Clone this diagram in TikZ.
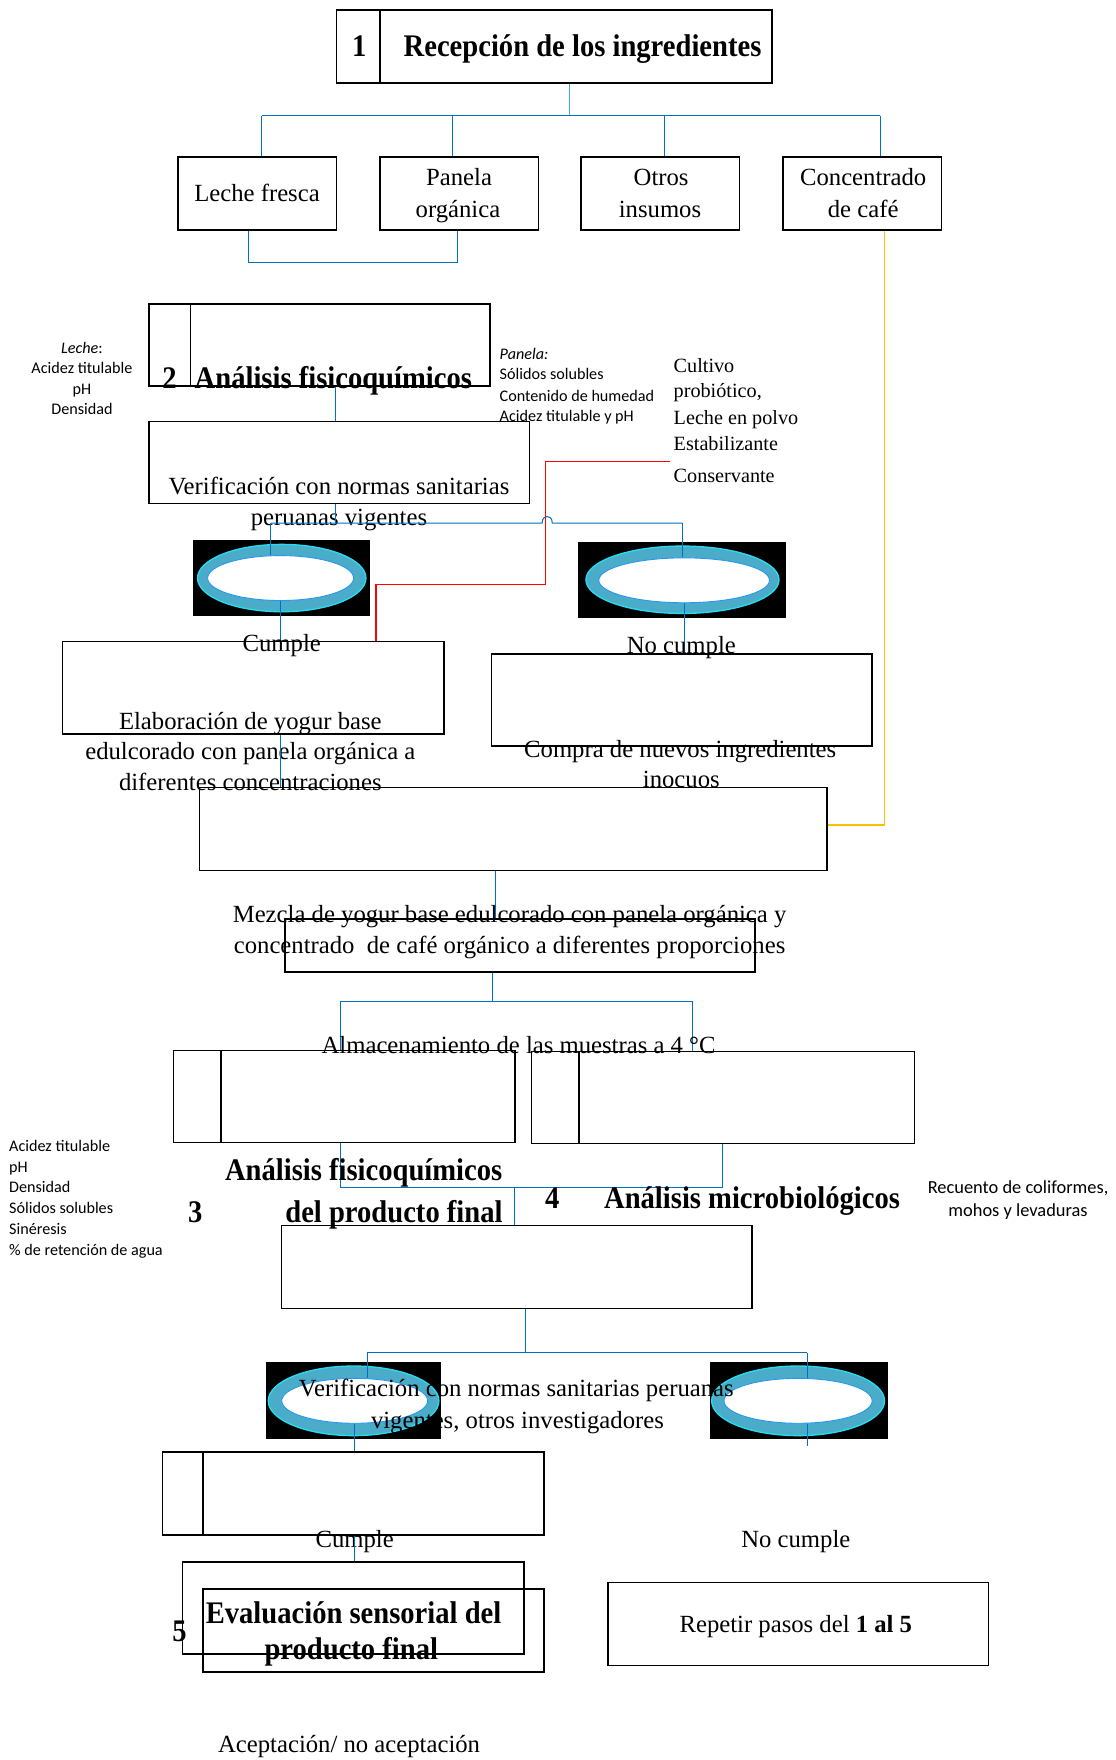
\documentclass[tikz,border=0pt]{standalone}
\usepackage{fontspec}
\setmainfont{Liberation Serif}
\newfontfamily\hb[FakeStretch=0.91]{Liberation Serif}
\newfontfamily\carl{Carlito}
\usetikzlibrary{shapes.geometric,calc}
\definecolor{cblue}{RGB}{0,112,192}
\definecolor{cblight}{RGB}{65,165,222}
\definecolor{cyel}{RGB}{255,192,0}
\definecolor{ringc}{RGB}{74,172,200}
\definecolor{ringe}{RGB}{40,220,240}
\definecolor{holee}{RGB}{40,150,240}
\begin{document}
\begin{tikzpicture}[x=1pt,y=-1pt,
  bx/.style={draw=black,line width=1.4pt,inner sep=0pt,anchor=north west},
  cn/.style={draw=cblue,line width=0.9pt},
  cnl/.style={draw=cblight,line width=0.9pt},
  cy/.style={draw=cyel,line width=1pt},
  cr/.style={draw=red,line width=1pt},
  tx/.style={inner sep=0pt,yshift=-2.5pt,font=\fontsize{22}{26}\selectfont,text height=15pt,text depth=5pt},
  ts/.style={inner sep=0pt,yshift=-2.5pt,font=\fontsize{18}{22}\selectfont,anchor=west,text height=12pt,text depth=4pt},
  hd/.style={inner sep=0pt,yshift=-2.5pt,font=\hb\bfseries\fontsize{28}{32}\selectfont,text height=19pt,text depth=6pt},
  sm/.style={inner sep=0pt,yshift=-2pt,font=\carl\fontsize{14.4}{17}\selectfont,text height=10pt,text depth=3pt},
  smb/.style={inner sep=0pt,yshift=-2pt,font=\carl\fontsize{16.4}{19}\selectfont,text height=11pt,text depth=3pt},
  bg/.style={fill=black,inner sep=0pt,anchor=north west},
  ring/.style={ellipse,fill=ringc,draw=ringe,line width=1.2pt,inner sep=0pt},
  hole/.style={ellipse,fill=white,draw=holee,line width=0.8pt,inner sep=0pt}]
\fill[white] (0,0) rectangle (994,1568);
\useasboundingbox (0,0) rectangle (994,1568);

% ---------- step 1
\node[bx,minimum width=39pt,minimum height=65pt] (n1) at (299,8) {};
\node[bx,minimum width=349pt,minimum height=65pt] (b1) at (338,8) {};
\node[hd] (t1n) at (320,41) {1};
\node[hd] (t1) at (519,41) {Recepción de los ingredientes};

\node[bx,minimum width=141pt,minimum height=65pt] (leche) at (158,139) {};
\node[bx,minimum width=141pt,minimum height=65pt] (panela) at (338,139) {};
\node[bx,minimum width=141pt,minimum height=65pt] (otros) at (517,139) {};
\node[bx,minimum width=141pt,minimum height=65pt] (cafe) at (697,139) {};
\node[tx] (tleche) at (229,172) {Leche fresca};
\node[tx] (tpan1) at (409,158) {Panela};
\node[tx] (tpan2) at (408,186) {orgánica};
\node[tx] (tot1) at (589,158) {Otros};
\node[tx] (tot2) at (588,186) {insumos};
\node[tx] (tcaf1) at (769,158) {Concentrado};
\node[tx] (tcaf2) at (769,186) {de café};

\coordinate (j1) at (507,103);
\coordinate (ja) at (233,103);
\coordinate (jb) at (403,103);
\coordinate (jc) at (592,103);
\coordinate (jd) at (784,103);
\draw[cnl] (b1.south -| j1) -- (j1);
\draw[cn] (ja) -- (jd);
\draw[cn] (ja) -- (ja |- leche.north);
\draw[cn] (jb) -- (jb |- panela.north);
\draw[cn] (jc) -- (jc |- otros.north);
\draw[cn] (jd) -- (jd |- cafe.north);
\coordinate (k1) at (221,234);
\coordinate (k2) at (408,234);
\draw[cn] (leche.south -| k1) -- (k1) -- (k2) -- (panela.south -| k2);

% ---------- step 2
\node[bx,minimum width=37pt,minimum height=73pt] (n2) at (132,270) {};
\node[bx,minimum width=267pt,minimum height=73pt] (a2) at (169,270) {};
\node[hd] (t2n) at (151,337) {2};
\node[hd] (t2) at (297,337) {Análisis fisicoquímicos};

\node[sm] (l1) at (73,309) {\textit{Leche}:};
\node[sm] (l2) at (73,327) {Acidez titulable};
\node[sm] (l3) at (73,346) {pH};
\node[sm] (l4) at (73,364) {Densidad};

\node[sm,anchor=west] (p1) at (445,315) {\textit{Panela:}};
\node[sm,anchor=west] (p2) at (445,333) {Sólidos solubles};
\node[sm,anchor=west] (p3) at (445,352) {Contenido de humedad};
\node[sm,anchor=west] (p4) at (445,370) {Acidez titulable y pH};

\node[ts] (o1) at (600,325) {Cultivo};
\node[ts] (o2) at (600,348) {probiótico,};
\node[ts] (o3) at (600,372) {Leche en polvo};
\node[ts] (o4) at (600,395) {Estabilizante};
\node[ts] (o5) at (600,423) {Conservante};

\node[bx,minimum width=339pt,minimum height=73pt] (vb) at (132,375) {};
\node[tx] (tv1) at (302,433) {Verificación con normas sanitarias};
\node[tx] (tv2) at (302,461) {peruanas vigentes};

\coordinate (x299) at (299,0);
\draw[cn] (a2.south -| x299) -- (vb.north -| x299);

% ellipses 1 and 2
\node[bg,minimum width=157pt,minimum height=68pt] (e1bg) at (172,481) {};
\node[ring,minimum width=150pt,minimum height=60pt] (e1r) at (251,515) {};
\node[hole,minimum width=130pt,minimum height=40pt] (e1i) at (250,515) {};
\node[bg,minimum width=185pt,minimum height=67pt] (e2bg) at (515,483) {};
\node[ring,minimum width=172pt,minimum height=60pt] (e2r) at (608,516.5) {};
\node[hole,minimum width=152pt,minimum height=40pt] (e2i) at (609.5,517) {};

\coordinate (h2) at (299,466);
\coordinate (hL) at (241,466);
\coordinate (hR) at (608,466);
\coordinate (hopA) at (483,466);
\coordinate (hopB) at (492,466);
\draw[cn] (vb.south -| h2) -- (h2);
\draw[cn] (hL) -- (hopA) .. controls ($(hopA)+(0,-8)$) and ($(hopB)+(0,-8)$) .. (hopB) -- (hR);
\draw[cn] (hL) -- (hL |- e1i.north);
\draw[cn] (hR) -- (hR |- e2i.north);

% red line
\coordinate (r0) at (597,411);
\coordinate (r1) at (486,411);
\coordinate (r2) at (486,521);
\coordinate (r3) at (335,521);

% cumple / no cumple
\node[bx,minimum width=340pt,minimum height=82pt] (cb) at (55,571) {};
\node[bx,minimum width=339pt,minimum height=82pt] (nb) at (437,582) {};
\draw[cr] (r0) -- (r1) -- (r2) -- (r3) -- (r3 |- cb.north);
\draw[cn] (e1i.south) -- (e1i.south |- cb.north);
\draw[cn] (e2i.south) -- (e2i.south |- nb.north);
\node[tx] (tc) at (251,573) {Cumple};
\node[tx] (te1) at (223,642) {Elaboración de yogur base};
\node[tx] (te2) at (223,669) {edulcorado con panela orgánica a};
\node[tx] (te3) at (223,697) {diferentes concentraciones};
\node[tx] (tnc) at (607,575) {No cumple};
\node[tx] (tn1) at (606,667) {Compra de nuevos ingredientes};
\node[tx] (tn2) at (607,694) {inocuos};

% mix
\node[bx,minimum width=559pt,minimum height=74pt] (mix) at (177,701) {};
\coordinate (x250) at (250,0);
\draw[cn] (cb.south -| x250) -- (mix.north -| x250);
\coordinate (y1) at (788,735);
\draw[cy] (cafe.south -| y1) -- (y1) -- (mix.east |- y1);

\node[bx,minimum width=419pt,minimum height=47pt] (mz) at (253,818) {};
\coordinate (x441) at (441,0);
\draw[cn] (mix.south -| x441) -- (mz.north -| x441);
\node[tx] (tm1) at (454,814) {Mezcla de yogur base edulcorado con panela orgánica y};
\node[tx] (tm2) at (454,842) {concentrado\ \ de café orgánico a diferentes proporciones};

% storage / analyses
\coordinate (s0) at (439,892);
\coordinate (sL) at (303,892);
\coordinate (sR) at (617,892);
\node[bx,minimum width=42pt,minimum height=82pt] (n3) at (154,935) {};
\node[bx,minimum width=262pt,minimum height=82pt] (a3) at (196,935) {};
\node[bx,minimum width=42pt,minimum height=82pt] (n4) at (473,936) {};
\node[bx,minimum width=299pt,minimum height=82pt] (a4) at (515,936) {};
\draw[cn] (mz.south -| s0) -- (s0);
\draw[cn] (sL) -- (sR);
\draw[cn] (sL) -- (sL |- a3.north);
\draw[cn] (sR) -- (sR |- a4.north);
\node[tx] (tal) at (462,931) {Almacenamiento de las muestras a 4 °C};

\node[bx,minimum width=419pt,minimum height=74pt] (fb) at (250,1091) {};
\coordinate (f1) at (303,1058);
\coordinate (f2) at (644,1058);
\coordinate (f3) at (458,1058);
\draw[cn] (a3.south -| f1) -- (f1) -- (f2) -- (a4.south -| f2);
\draw[cn] (f3) -- (fb.north -| f3);

\node[hd] (t3a) at (324,1043) {Análisis fisicoquímicos};
\node[hd] (t3b) at (351,1080) {del producto final};
\node[hd] (t3n) at (174,1080) {3};
\node[hd] (t4n) at (492,1068) {4};
\node[hd] (t4) at (670,1068) {Análisis microbiológicos};

\node[sm,anchor=west] (q1) at (8,1020) {Acidez titulable};
\node[sm,anchor=west] (q2) at (8,1039) {pH};
\node[sm,anchor=west] (q3) at (8,1057) {Densidad};
\node[sm,anchor=west] (q4) at (8,1076) {Sólidos solubles};
\node[sm,anchor=west] (q5) at (8,1094) {Sinéresis};
\node[sm,anchor=west] (q6) at (8,1113) {\% de retención de agua};
\node[smb] (m1) at (907,1057) {Recuento de coliformes,};
\node[smb] (m2) at (907,1078) {mohos y levaduras};

% ellipses 3 and 4
\node[bg,minimum width=156pt,minimum height=69pt] (e3bg) at (237,1213) {};
\node[ring,minimum width=152pt,minimum height=62pt] (e3r) at (315,1248) {};
\node[hole,minimum width=130pt,minimum height=40pt] (e3i) at (316,1248) {};
\node[bg,minimum width=159pt,minimum height=69pt] (e4bg) at (632,1213) {};
\node[ring,minimum width=154pt,minimum height=62pt] (e4r) at (711,1248) {};
\node[hole,minimum width=132pt,minimum height=40pt] (e4i) at (711,1248) {};

\coordinate (g0) at (468,1205);
\coordinate (gL) at (327,1205);
\coordinate (gR) at (719,1205);
\draw[cn] (fb.south -| g0) -- (g0);
\draw[cn] (gL) -- (gR);
\draw[cn] (gL) -- (gL |- e3i.north);
\draw[cn] (gR) -- (gR |- e4i.north);
\node[tx] (tw1) at (460,1237) {Verificación con normas sanitarias peruanas};
\node[tx] (tw2) at (461,1265) {vigentes, otros investigadores};

% final steps
\node[bx,minimum width=36pt,minimum height=74pt] (n5a) at (144,1293) {};
\node[bx,minimum width=304pt,minimum height=74pt] (a5) at (180,1293) {};
\coordinate (q4e) at (719,1288);
\draw[cn] (e3i.south) -- (e3i.south |- a5.north);
\draw[cn] (e4i.south -| q4e) -- (q4e);
\node[tx] (tc2) at (316,1371) {Cumple};
\node[tx] (tnc2) at (709,1371) {No cumple};

\node[bx,minimum width=304pt,minimum height=82pt] (evA) at (162,1391) {};
\node[bx,minimum width=304pt,minimum height=74pt] (evB) at (180,1415) {};
\coordinate (x316) at (316,0);
\draw[cn] (a5.south -| x316) -- (evA.north -| x316);
\node[hd] (t5n) at (160,1453) {5};
\node[hd] (t5a) at (315,1437) {Evaluación sensorial del};
\node[hd] (t5b) at (313,1469) {producto final};

\node[bx,minimum width=339pt,minimum height=74pt] (rep) at (541,1409) {};
\node[tx] (trep) at (709,1447) {Repetir pasos del \textbf{1 al 5}};

\node[tx] (tac) at (311,1554) {Aceptación/ no aceptación};
\end{tikzpicture}
\end{document}
